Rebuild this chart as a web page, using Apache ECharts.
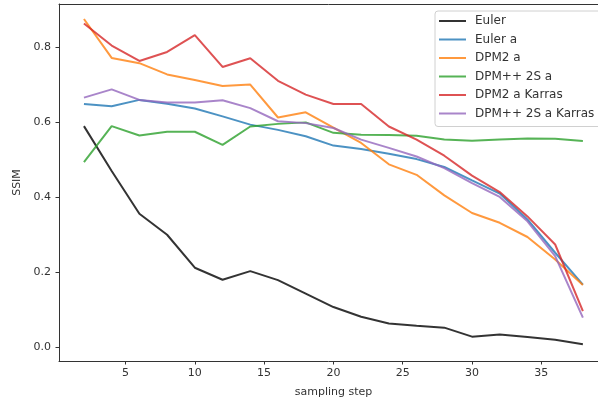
<!DOCTYPE html>
<html>
<head>
<meta charset="utf-8">
<script src="https://cdn.jsdelivr.net/npm/echarts@6/dist/echarts.min.js"></script>
<style>
  html, body { margin: 0; padding: 0; background: #fff; }
  #chart { width: 598px; height: 403px; }
</style>
</head>
<body>
<div id="chart"></div>
<script>
// sampling steps on the x axis
const steps = [2, 4, 6, 8, 10, 12, 14, 16, 18, 20, 22, 24, 26, 28, 30, 32, 34, 36, 38]

// SSIM per sampler
const euler = [0.59, 0.47, 0.356, 0.30, 0.212, 0.18, 0.203, 0.179, 0.143, 0.107, 0.081, 0.063, 0.057, 0.052, 0.028, 0.034, 0.027, 0.02, 0.008]
const eulerA = [0.649, 0.643, 0.66, 0.65, 0.637, 0.616, 0.594, 0.58, 0.563, 0.538, 0.529, 0.516, 0.502, 0.481, 0.445, 0.41, 0.341, 0.252, 0.167]
const dpm2A = [0.876, 0.772, 0.758, 0.728, 0.713, 0.697, 0.701, 0.613, 0.627, 0.586, 0.545, 0.488, 0.46, 0.405, 0.358, 0.332, 0.294, 0.234, 0.166]
const dpmpp2sA = [0.494, 0.59, 0.565, 0.575, 0.575, 0.54, 0.589, 0.596, 0.6, 0.572, 0.567, 0.566, 0.564, 0.554, 0.551, 0.554, 0.557, 0.556, 0.55]
const dpm2AKarras = [0.864, 0.805, 0.764, 0.788, 0.833, 0.748, 0.771, 0.711, 0.674, 0.649, 0.649, 0.589, 0.554, 0.511, 0.458, 0.414, 0.349, 0.274, 0.096]
const dpmpp2sAKarras = [0.666, 0.688, 0.66, 0.653, 0.653, 0.659, 0.638, 0.603, 0.598, 0.585, 0.554, 0.532, 0.509, 0.478, 0.438, 0.401, 0.336, 0.243, 0.079]

const names = ['Euler', 'Euler a', 'DPM2 a', 'DPM++ 2S a', 'DPM2 a Karras', 'DPM++ 2S a Karras']
const colors = [
  'rgba(0,0,0,0.8)',
  'rgba(31,119,180,0.8)',
  'rgba(255,127,14,0.8)',
  'rgba(44,160,44,0.8)',
  'rgba(214,39,40,0.8)',
  'rgba(148,103,189,0.8)'
]
const xTicks = [5, 10, 15, 20, 25, 30, 35]
const yTicks = [0, 0.2, 0.4, 0.6, 0.8]

const seriesValues = [euler, eulerA, dpm2A, dpmpp2sA, dpm2AKarras, dpmpp2sAKarras]
const font = 'DejaVu Sans'

const chart = echarts.init(document.getElementById('chart'), null, { renderer: 'canvas' })

// the original figure is cropped on the right, so the x range stops before 39.8
chart.setOption({
  animation: false,
  backgroundColor: '#fff',
  grid: {
    left: 59,
    top: 4,
    right: 0,
    height: 357.5
  },
  legend: {
    orient: 'vertical',
    left: 435,
    top: 11,
    padding: [3, 8, 6, 4],
    icon: 'rect',
    itemWidth: 27,
    itemHeight: 2,
    itemGap: 4.5,
    borderColor: '#d0d0d0',
    borderWidth: 1,
    borderRadius: 3,
    backgroundColor: 'rgba(255,255,255,0.8)',
    textStyle: {
      fontFamily: font,
      fontSize: 12,
      color: '#333',
      lineHeight: 14,
      padding: [0, 0, 0, 4]
    },
    data: names
  },
  xAxis: [{
    type: 'value',
    min: 0.2,
    max: 39.09,
    name: 'sampling step',
    nameLocation: 'middle',
    nameGap: 26,
    nameTextStyle: { fontFamily: font, fontSize: 11, color: '#333', padding: [0, 0, 0, 10] },
    axisLine: { show: true, onZero: false, lineStyle: { color: '#333', width: 1 } },
    axisTick: { show: true, length: 3.5, customValues: xTicks, lineStyle: { color: '#333' } },
    axisLabel: {
      customValues: xTicks,
      margin: 7,
      fontFamily: font,
      fontSize: 11,
      color: '#333'
    },
    splitLine: { show: false }
  }, {
    type: 'value',
    position: 'top',
    min: 0.2,
    max: 39.09,
    axisLine: { show: true, onZero: false, lineStyle: { color: '#333', width: 1 } },
    axisTick: { show: false },
    axisLabel: { show: false },
    splitLine: { show: false }
  }],
  yAxis: {
    type: 'value',
    min: -0.037,
    max: 0.916,
    name: 'SSIM',
    nameLocation: 'middle',
    nameGap: 33,
    nameRotate: 90,
    nameTextStyle: { fontFamily: font, fontSize: 11, color: '#333' },
    axisLine: { show: true, onZero: false, lineStyle: { color: '#333', width: 1 } },
    axisTick: { show: true, length: 3.5, customValues: yTicks, lineStyle: { color: '#333' } },
    axisLabel: {
      customValues: yTicks,
      margin: 8,
      fontFamily: font,
      fontSize: 11,
      color: '#333',
      formatter: v => v.toFixed(1)
    },
    splitLine: { show: false }
  },
  series: names.map((name, i) => ({
    name,
    type: 'line',
    symbol: 'none',
    color: colors[i],
    lineStyle: { width: 2, color: colors[i] },
    data: steps.map((s, j) => [s, seriesValues[i][j]])
  }))
})
</script>
</body>
</html>
